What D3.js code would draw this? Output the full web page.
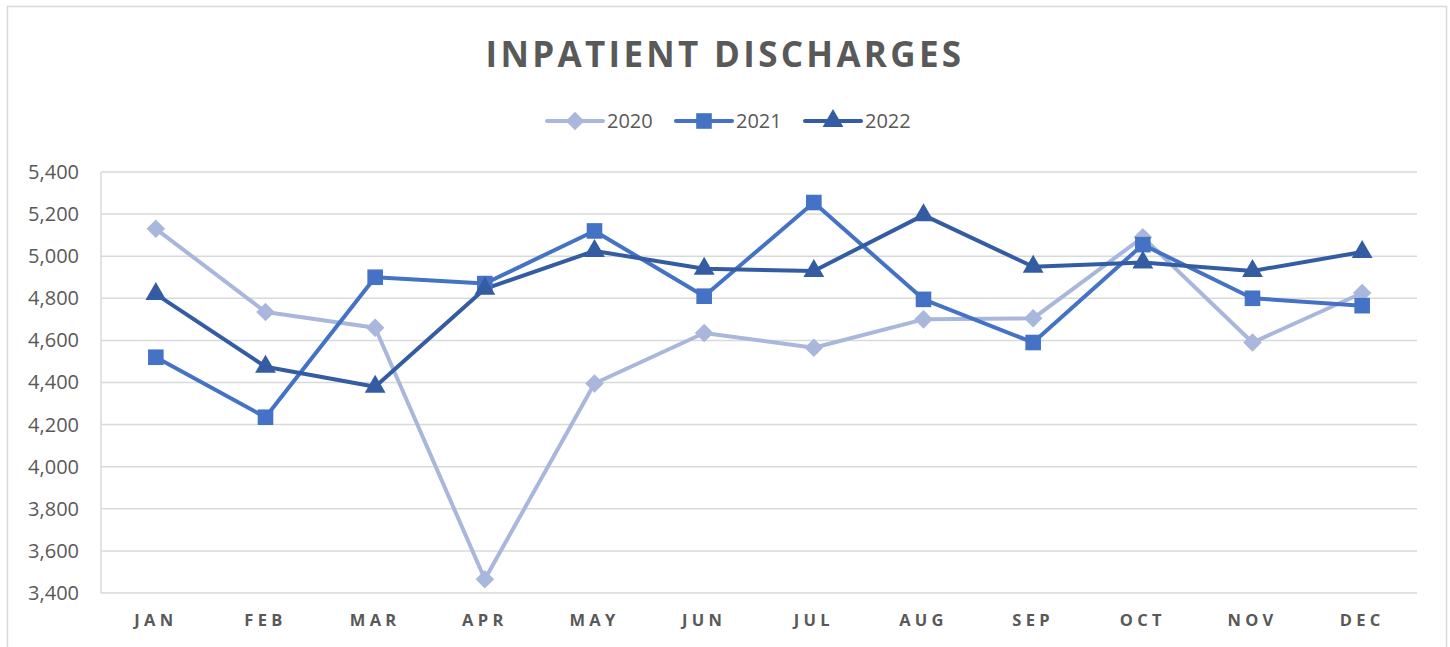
<!DOCTYPE html>
<html>
<head>
<meta charset="utf-8">
<script src="https://cdn.jsdelivr.net/npm/d3@7"></script>
<style>
  body { margin: 0; background: #fff; }
  text { font-family: "Open Sans", "Liberation Sans", sans-serif; fill: #595959; }
</style>
</head>
<body>
<script>
// Data
var months = ["JAN", "FEB", "MAR", "APR", "MAY", "JUN", "JUL", "AUG", "SEP", "OCT", "NOV", "DEC"];
var years = ["2020", "2021", "2022"];
var values2020 = [5130, 4735, 4660, 3465, 4395, 4635, 4565, 4700, 4705, 5090, 4590, 4825];
var values2021 = [4520, 4235, 4900, 4870, 5120, 4810, 5255, 4795, 4590, 5055, 4800, 4765];
var values2022 = [4820, 4475, 4380, 4845, 5025, 4940, 4930, 5195, 4950, 4970, 4930, 5020];
var yTicks = [3400, 3600, 3800, 4000, 4200, 4400, 4600, 4800, 5000, 5200, 5400];

var series = [
    { key: "2020", values: values2020, color: "#A9B7DC", symbol: d3.symbolDiamond2 },
    { key: "2021", values: values2021, color: "#4472C4", symbol: d3.symbolSquare2 },
    { key: "2022", values: values2022, color: "#335CA3", symbol: d3.symbolTriangle2 }
];

var W = 1450, H = 647;
var margin = { top: 172, right: 33, bottom: 54, left: 101 },
    width = W - margin.left - margin.right,
    height = H - margin.top - margin.bottom;

var root = d3.select("body").append("svg")
    .attr("width", W)
    .attr("height", H);

// Chart border
root.append("rect")
    .attr("x", 7.5).attr("y", 6.5)
    .attr("width", 1439).attr("height", 660)
    .attr("fill", "none")
    .attr("stroke", "#D9D9D9")
    .attr("stroke-width", 1.5);

// Title
root.append("text")
    .attr("x", 725).attr("y", 67)
    .attr("text-anchor", "middle")
    .style("font-size", "35px")
    .style("font-weight", "bold")
    .style("letter-spacing", "3.3px")
    .text("INPATIENT DISCHARGES");

var svg = root.append("g")
    .attr("transform", "translate(" + margin.left + "," + margin.top + ")");

var x = d3.scaleBand().domain(months).range([0, width]);
var y = d3.scaleLinear().domain([3400, 5400]).range([height, 0]);

// Gridlines
svg.append("g")
    .selectAll("line")
    .data(yTicks)
    .enter().append("line")
    .attr("x1", 0).attr("x2", width)
    .attr("y1", function (d) { return y(d); })
    .attr("y2", function (d) { return y(d); })
    .attr("stroke", "#D9D9D9")
    .attr("stroke-width", 1.5);

svg.append("line")
    .attr("x1", 0).attr("x2", 0)
    .attr("y1", 0).attr("y2", height)
    .attr("stroke", "#D9D9D9")
    .attr("stroke-width", 1.5);

// Y axis
var yAxis = svg.append("g")
    .call(d3.axisLeft(y).tickValues(yTicks).tickFormat(d3.format(",")).tickSize(0).tickPadding(22));
yAxis.select(".domain").remove();
yAxis.selectAll("text")
    .style("font-size", "20px")
    .attr("fill", "#595959");

// X axis
var xAxis = svg.append("g")
    .attr("transform", "translate(0," + height + ")")
    .call(d3.axisBottom(x).tickSize(0).tickPadding(21));
xAxis.select(".domain").remove();
xAxis.selectAll("text")
    .style("font-size", "16.5px")
    .style("font-weight", "bold")
    .style("letter-spacing", "4.3px")
    .attr("fill", "#595959");

// Lines
var line = d3.line()
    .x(function (d, i) { return x(months[i]) + x.bandwidth() / 2; })
    .y(function (d) { return y(d); });

series.forEach(function (s) {
    svg.append("path")
        .datum(s.values)
        .attr("fill", "none")
        .attr("stroke", s.color)
        .attr("stroke-width", 4)
        .attr("stroke-linejoin", "round")
        .attr("d", line);
});

// Markers
series.forEach(function (s) {
    svg.append("g")
        .selectAll("path")
        .data(s.values)
        .enter().append("path")
        .attr("transform", function (d, i) {
            return "translate(" + (x(months[i]) + x.bandwidth() / 2) + "," + y(d) + ")";
        })
        .attr("d", d3.symbol().type(s.symbol).size(s.key === "2020" ? 220 : 310))
        .attr("fill", s.color);
});

// Legend
var legendX = [547, 676, 805];
var legend = root.selectAll(".legend")
    .data(series)
    .enter().append("g")
    .attr("class", "legend")
    .attr("transform", function (d, i) { return "translate(" + legendX[i] + ",121)"; });

legend.append("line")
    .attr("x1", 0).attr("x2", 56)
    .attr("stroke", function (d) { return d.color; })
    .attr("stroke-width", 4)
    .attr("stroke-linecap", "round");

legend.append("path")
    .attr("transform", "translate(28,0)")
    .attr("d", function (d) { return d3.symbol().type(d.symbol).size(d.key === "2020" ? 220 : 310)(); })
    .attr("fill", function (d) { return d.color; });

legend.append("text")
    .attr("x", 60)
    .attr("dy", "0.35em")
    .style("font-size", "20px")
    .text(function (d) { return d.key; });
</script>
</body>
</html>
